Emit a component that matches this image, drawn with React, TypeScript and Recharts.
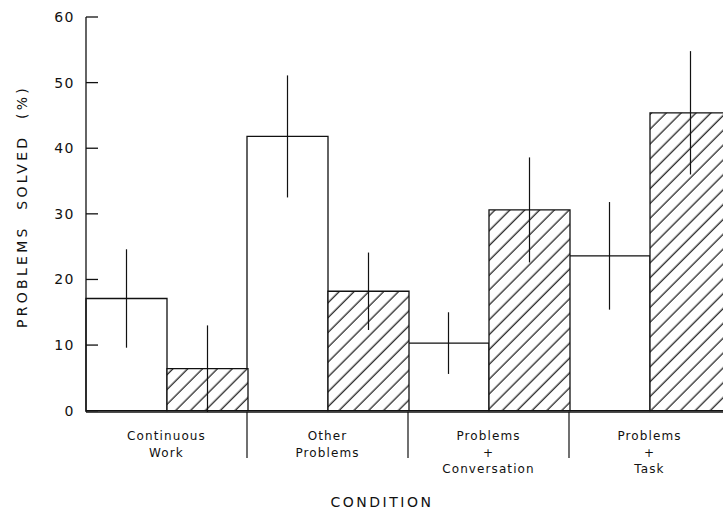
import React from 'react';
import { BarChart, Bar, XAxis, YAxis, ErrorBar, Label } from 'recharts';

const categories = ['Continuous\nWork', 'Other\nProblems', 'Problems\n+\nConversation', 'Problems\n+\nTask'];
const openValues = [17.1, 41.8, 10.3, 23.6];
const openErrors = [7.5, 9.3, 4.7, 8.2];
const hatchedValues = [6.4, 18.2, 30.6, 45.4];
const hatchedErrors = [6.6, 5.9, 8.0, 9.4];
const yTicks = [0, 10, 20, 30, 40, 50, 60];

const data = categories.map((name, i) => ({
  name,
  open: openValues[i],
  openErr: openErrors[i],
  hatched: hatchedValues[i],
  hatchedErr: hatchedErrors[i],
}));

const INK = '#111';
const FONT = 'DejaVu Sans';

const CatTick = (props: any) => {
  const { x, y, payload, index, visibleTicksCount, width } = props;
  const lines = String(payload.value).split('\n');
  const half = payload && typeof payload.offset === 'number' && payload.offset > 0
    ? payload.offset
    : width / (visibleTicksCount || 4) / 2;
  const isLast = index === (visibleTicksCount || 4) - 1;
  return (
    <g>
      {!isLast && (
        <line x1={x + half} y1={y} x2={x + half} y2={y + 46} stroke={INK} strokeWidth={1.2} />
      )}
      <text x={x} y={y} textAnchor="middle" fontFamily={FONT} fontSize={12} fill={INK} letterSpacing={1.1}>
        {lines.map((l, i) => (
          <tspan key={i} x={x} dy={i === 0 ? 28 : 16.5}>{l}</tspan>
        ))}
      </text>
    </g>
  );
};

const ValueTick = (props: any) => {
  const { x, y, payload } = props;
  return (
    <g>
      <line x1={x + 11} y1={y} x2={x + 23} y2={y} stroke={INK} strokeWidth={1.3} />
      <text x={x} y={y} dy="0.36em" textAnchor="end" fontFamily={FONT} fontSize={14} fill={INK} letterSpacing={1.5}>
        {payload.value}
      </text>
    </g>
  );
};

export default function App() {
  return (
    <div style={{ position: 'fixed', left: 0, top: 0, width: 723, height: 516, overflow: 'hidden', background: '#fff' }}>
      <BarChart
        width={740}
        height={516}
        data={data}
        margin={{ top: 17, right: 10, left: 0, bottom: 0 }}
        barCategoryGap={0}
        barGap={0}
      >
        <defs>
          <pattern id="hatch" patternUnits="userSpaceOnUse" width="10.5" height="10.5" patternTransform="rotate(45)">
            <rect width="10.5" height="10.5" fill="#fff" />
            <line x1="5" y1="0" x2="5" y2="10.5" stroke={INK} strokeWidth={1.2} />
          </pattern>
        </defs>
        <XAxis
          dataKey="name"
          interval={0}
          tickLine={false}
          tickSize={0}
          tickMargin={0}
          axisLine={{ stroke: INK, strokeWidth: 1.3 }}
          tick={<CatTick />}
          height={104}
        >
          <Label
            content={(p: any) => {
              const vb = p.viewBox;
              const cx = vb.x + vb.width / 2 - 26;
              return (
                <text x={cx} y={vb.y + 95} textAnchor="middle" fontFamily={FONT} fontSize={14} fill={INK} letterSpacing={2.5}>
                  CONDITION
                </text>
              );
            }}
          />
        </XAxis>
        <YAxis
          domain={[0, 60]}
          ticks={yTicks}
          interval={0}
          width={86}
          tickSize={0}
          tickMargin={11}
          tickLine={false}
          axisLine={{ stroke: INK, strokeWidth: 1.3 }}
          tick={<ValueTick />}
        >
          <Label
            content={(p: any) => {
              const vb = p.viewBox;
              const cx = vb.x + 22;
              const cy = vb.y + vb.height / 2 - 8;
              return (
                <text
                  x={cx}
                  y={cy}
                  transform={`rotate(-90 ${cx} ${cy})`}
                  textAnchor="middle"
                  dominantBaseline="central"
                  fontFamily={FONT}
                  fontSize={14}
                  fill={INK}
                  letterSpacing={3.3}
                  style={{ whiteSpace: 'pre' }}
                >
                  {'PROBLEMS  SOLVED  (%)'}
                </text>
              );
            }}
          />
        </YAxis>
        <Bar dataKey="open" fill="#fff" stroke={INK} strokeWidth={1.3} isAnimationActive={false}>
          <ErrorBar dataKey="openErr" width={0} stroke={INK} strokeWidth={1.2} direction="y" />
        </Bar>
        <Bar dataKey="hatched" fill="url(#hatch)" stroke={INK} strokeWidth={1.3} isAnimationActive={false}>
          <ErrorBar dataKey="hatchedErr" width={0} stroke={INK} strokeWidth={1.2} direction="y" />
        </Bar>
      </BarChart>
    </div>
  );
}
